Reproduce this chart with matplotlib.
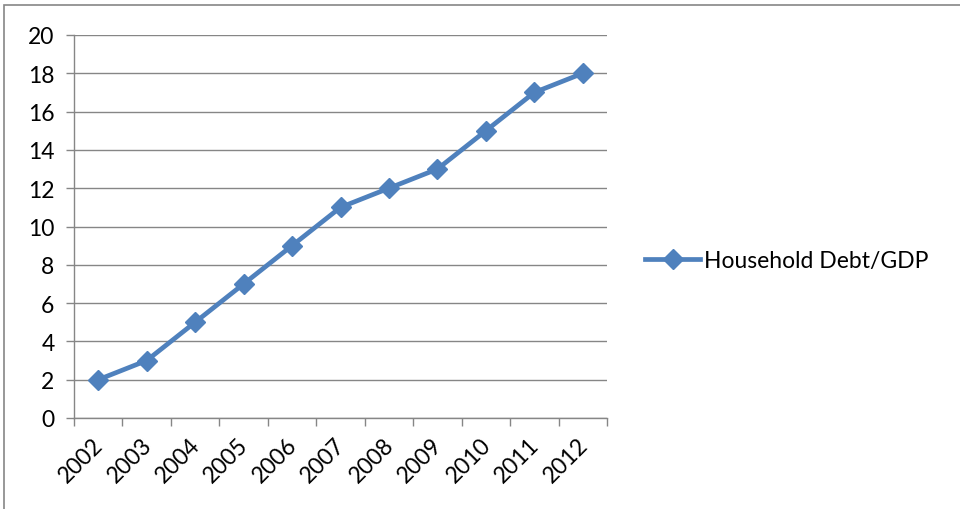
"""
Household debt as a share of GDP, 2002-2012, drawn as an
office-style line chart with diamond markers and a side legend.
"""

import matplotlib
matplotlib.use('Agg')
import matplotlib.pyplot as plt
from matplotlib.patches import Rectangle
from matplotlib.transforms import ScaledTranslation

years = ['2002', '2003', '2004', '2005', '2006', '2007',
         '2008', '2009', '2010', '2011', '2012']
debt_to_gdp = [2, 3, 5, 7, 9, 11, 12, 13, 15, 17, 18]
series_name = 'Household Debt/GDP'

line_blue = '#4F81BD'
axis_grey = '#868686'
font_size = 16.5

plt.rcParams['font.family'] = ['Lato', 'DejaVu Sans']

fig = plt.figure(figsize=(9.6, 5.1), dpi=100)
ax = fig.add_axes([74 / 960, 1 - 419 / 510, 533 / 960, 383 / 510])

# outer chart frame, running off the right and bottom edges
fig.patches.append(Rectangle((4 / 960, -0.5), 2.0, 0.5 + (1 - 6 / 510),
                             transform=fig.transFigure, fill=False,
                             edgecolor=axis_grey, linewidth=1.2))

xpos = range(len(years))
ax.plot(xpos, debt_to_gdp, color=line_blue, linewidth=3.4,
        marker='D', markersize=10, label=series_name)

ax.set_xlim(-0.5, len(years) - 0.5)
ax.set_ylim(0, 20)
ax.set_yticks(range(0, 21, 2))
ax.yaxis.grid(True, color=axis_grey, linewidth=1)
ax.set_axisbelow(True)

# category labels at the centres, tick marks on the boundaries
ax.set_xticks(list(xpos))
ax.set_xticklabels(years, rotation=45, ha='right', va='top',
                   rotation_mode='anchor')
ax.set_xticks([i - 0.5 for i in range(len(years) + 1)], minor=True)
ax.tick_params(axis='x', which='major', length=0, pad=11,
               labelsize=font_size)
ax.tick_params(axis='x', which='minor', length=6, color=axis_grey, width=1)
ax.tick_params(axis='y', length=6, color=axis_grey, width=1, pad=8,
               labelsize=font_size)

# nudge the slanted year labels a little to the left
shift = ScaledTranslation(-6 / 100, 0, fig.dpi_scale_trans)
for lbl in ax.get_xticklabels():
    lbl.set_transform(lbl.get_transform() + shift)

for side in ['top', 'right']:
    ax.spines[side].set_visible(False)
for side in ['left', 'bottom']:
    ax.spines[side].set_color(axis_grey)
    ax.spines[side].set_linewidth(1)

ax.legend(loc='center left', bbox_to_anchor=(1.055, 0.41), frameon=False,
          fontsize=font_size, handlelength=2.4, handletextpad=0.15,
          borderaxespad=0)

fig.savefig('out.png', dpi=100)
